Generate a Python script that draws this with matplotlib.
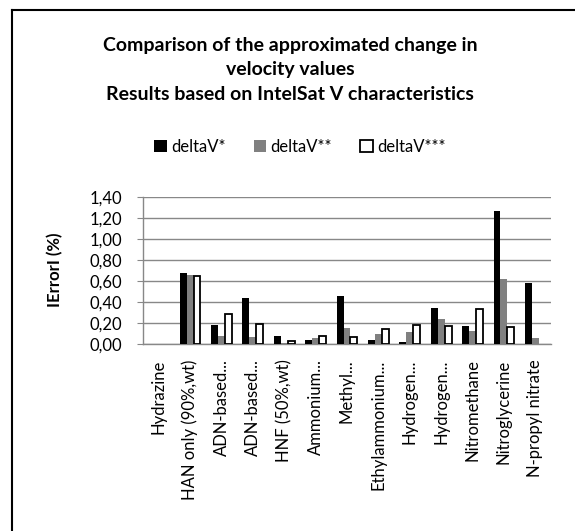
import numpy as np
import matplotlib
matplotlib.use('Agg')
import matplotlib.pyplot as plt
from matplotlib.lines import Line2D
from matplotlib.patches import Patch

plt.rcParams['font.family'] = ['Lato', 'DejaVu Sans']

categories = ['Hydrazine', 'HAN only (90%,wt)', 'ADN-based...', 'ADN-based...',
              'HNF (50%,wt)', 'Ammonium...', 'Methyl...', 'Ethylammonium...',
              'Hydrogen...', 'Hydrogen...', 'Nitromethane', 'Nitroglycerine',
              'N-propyl nitrate']
dv1 = [0.00, 0.68, 0.18, 0.44, 0.08, 0.04, 0.46, 0.04, 0.02, 0.34, 0.17, 1.27, 0.58]
dv2 = [0.00, 0.66, 0.08, 0.07, 0.01, 0.06, 0.15, 0.10, 0.11, 0.24, 0.12, 0.62, 0.06]
dv3 = [0.00, 0.65, 0.29, 0.19, 0.03, 0.08, 0.07, 0.14, 0.18, 0.17, 0.33, 0.16, 0.00]
series = ['deltaV*', 'deltaV**', 'deltaV***']
yticks = [0.0, 0.2, 0.4, 0.6, 0.8, 1.0, 1.2, 1.4]

fig = plt.figure(figsize=(5.75, 5.31), dpi=100)
ax = fig.add_axes([143/575, 1-344/531, 408/575, 147/531])

x = np.arange(len(categories))
w = 0.22
ax.bar(x - w, dv1, w, color='black', zorder=3)
ax.bar(x, dv2, w, color='#808080', zorder=3)
# no outline for empty bars
lw3 = [1.3 if v > 0 else 0 for v in dv3]
ax.bar(x + w, dv3, w, color='white', edgecolor='black', linewidth=lw3, zorder=3)

ax.set_xlim(-0.5, len(categories) - 0.5)
ax.set_ylim(0, 1.4)
ax.set_yticks(yticks)
ax.yaxis.set_major_formatter(matplotlib.ticker.FuncFormatter(
    lambda v, p: ('%.2f' % v).replace('.', ',')))
ax.set_xticks(x)
ax.set_xticklabels(categories, rotation=90, fontsize=12)
ax.tick_params(axis='y', labelsize=12, length=4, color='#888888', pad=11)
ax.tick_params(axis='x', length=0, pad=11)
ax.grid(axis='y', color='#888888', linewidth=1, zorder=0)
for s in ['top', 'right']:
    ax.spines[s].set_visible(False)
for s in ['left', 'bottom']:
    ax.spines[s].set_color('#888888')
    ax.spines[s].set_linewidth(1)

ax.set_ylabel('IErrorI (%)', fontsize=12, fontweight='bold')
ax.yaxis.set_label_coords(63/575, 1-270/531, transform=fig.transFigure)

fig.text(290/575, 1-70/531, 'Comparison of the approximated change in\nvelocity values\n'
         'Results based on IntelSat V characteristics',
         ha='center', va='center', fontsize=14, fontweight='bold', linespacing=1.5)

handles = [Patch(facecolor='black'),
           Patch(facecolor='#808080'),
           Patch(facecolor='white', edgecolor='black', linewidth=1.3)]
ax.legend(handles, series, loc='center', ncol=3, frameon=False, fontsize=12,
          handlelength=0.75, handleheight=0.75, handletextpad=0.25,
          columnspacing=1.7, bbox_to_anchor=(300/575, 1-147/531),
          bbox_transform=fig.transFigure)

# chart area border (only top and left are visible in the picture)
fig.add_artist(Line2D([12/575, 12/575], [0, 1-10/531], color='black', linewidth=1.5))
fig.add_artist(Line2D([12/575, 1], [1-10/531, 1-10/531], color='black', linewidth=1.5))

fig.savefig('out.png', dpi=100)
